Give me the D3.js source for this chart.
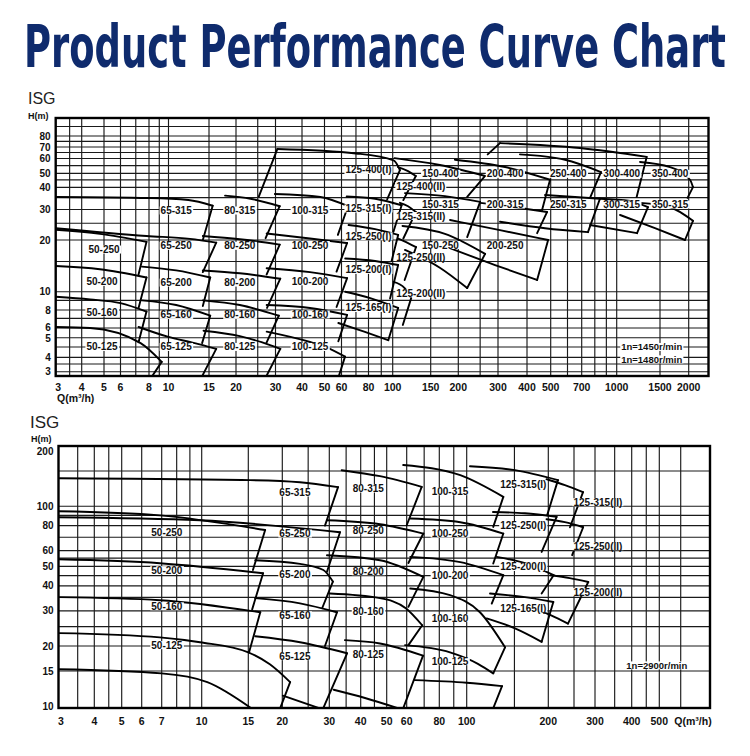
<!DOCTYPE html>
<html><head><meta charset="utf-8">
<script src="https://cdn.jsdelivr.net/npm/d3@7"></script>
<style>body{margin:0;background:#fff}</style>
</head><body>
<svg id="c" width="750" height="756"></svg>
<script>
// ================= DATA: 1450/1480 r/min chart =================
const lowQTicks = [3,4,5,6,8,10,15,20,30,40,50,60,80,100,150,200,300,400,500,700,1000,1500,2000];
const lowHTicks = [3,4,5,6,8,10,20,30,40,50,60,70,80];
const lowQGrid = [3.5,4,5,6,7,8,9,10,15,20,25,30,40,50,60,70,80,90,100,150,200,250,300,400,500,600,700,800,900,1000,1500,2000];
const lowHGrid = [3,3.5,4,4.5,5,6,7,8,9,10,15,20,25,30,35,40,45,50,55,60,65,70,75,80,90];
const lowNames = ['50-125','50-160','50-200','50-250','65-125','65-160','65-200','65-250','65-315',
  '80-125','80-160','80-200','80-250','80-315','100-125','100-160','100-200','100-250','100-315',
  '125-400(I)','125-315(I)','125-250(I)','125-200(I)','125-165(I)','125-400(II)','125-315(II)','125-250(II)','125-200(II)',
  '150-400','150-315','150-250','200-400','200-315','200-250','250-400','300-400','350-400','250-315','300-315','350-315'];
const lowTop = [
  [[3,6.1],[4.35,6.0],[7.35,4.7],[9.25,3.65]],
  [[3,9.4],[4.35,9.1],[6,8.7],[7.8,7.8]],
  [[3,14.1],[4.8,13.5],[7.8,12.1]],
  [[3,22.9],[4.8,21.7],[7.8,19.5]],
  [[7.2,6.1],[9.9,5.1],[13,4.7],[16.2,4.4]],
  [[7.45,9.0],[10.8,8.5],[15.2,7.3]],
  [[7.45,14.0],[10.8,13.3],[15.2,12.1]],
  [[3,23.4],[7.8,21.1],[12.4,20.3],[16.2,19.3]],
  [[3,35.3],[8,34.8],[12.2,33.9],[15.6,31.5]],
  [[14.2,5.7],[20.8,5.15],[26,4.75],[31.6,4.4]],
  [[14.1,9.0],[20.8,8.5],[31.1,7.3]],
  [[14.1,13.3],[20.8,12.8],[31.6,11.9]],
  [[14.1,21.1],[20.8,20.2],[31.4,18.8]],
  [[17.8,35.9],[23.2,34.5],[31.4,31.3]],
  [[27.4,5.6],[43.3,4.76],[51.4,4.47],[62.3,4.03]],
  [[27.4,8.5],[43.3,8.2],[63.7,7.4]],
  [[27.4,13.7],[43.3,13.0],[63.7,12.0]],
  [[27.4,21.8],[43.3,20.4],[63.7,19.2]],
  [[29.8,36.7],[48,35.3],[64.3,31.3]],
  [[30.6,68.1],[70,64.2],[101,58.6],[108,52]],
  [[63.4,35.5],[85,34.5],[110,31.7]],
  [[64.7,24.4],[85,23.1],[106,21.4]],
  [[62.4,15.6],[85,15.1],[106,14.3]],
  [[62.4,10],[81.3,9.25],[106,8.2]],
  [[105.8,54],[117.8,51.4],[128,47.9]],
  [[108,32.7],[117.8,31.3],[128,29]],
  [[105.8,20.4],[117.8,19.2],[128.3,18.2]],
  [[100.9,11.4],[113.6,10.5],[121.8,9.25]],
  [[102,60.3],[165,55.4],[263,47.9]],
  [[114,37.1],[174,35.7],[250,33.1]],
  [[111,24.1],[174,21.7],[263,16.6]],
  [[193,59.1],[322,54],[497,45.1]],
  [[250,32.7],[355,30.9],[483,29]],
  [[183.5,26.1],[306,22.8],[488,20]],
  [[373,63.4],[584,59.1],[852,50.8]],
  [[306,73.4],[687,69.1],[1324,61.3]],
  [[1244,57.5],[1659,54],[2025,45.1],[2084,40.1]],
  [[474,36.2],[651,35.3],[843,34.5]],
  [[843,34.5],[1133,33.5],[1340,30.9]],
  [[1244,32.7],[1659,30.9],[2084,25.8]]
];
const lowRight = [[8.2,2.7],[7.2,4.75],[7.2,8.2],[7.2,12.6],[13.9,2.7],[14,4.7],[14.1,8.4],[14.1,13],[14.1,20],
  [27.1,2.7],[27.3,4.7],[27.5,8.2],[27.4,12.6],[27.1,20.5],[58,2.7],[58,4.8],[56.9,8.3],[56.9,13.1],[57.7,21.4],
  [95,34.2],[100.8,22.3],[99,15.1],[97.6,9.2],[96,4.86],[112,33.9],[112,20.4],[113.6,11.7],[111.4,6.3],
  [219,35.3],[219,20.8],[219,10.5],[461,29.8],[440,21.9],[440,11.7],[762,34.9],[1206,35.4],[1977,34.9],[746,22.2],[1210,21.9],[1927,20]];
const lowLeft = lowNames.map(n => n === '125-400(I)' ? [25.3,35.6] : n === '300-400' ? [270,63.4] : null);
const lowExtra = lowNames.map(n => ({
  '125-165(I)': [[58,6.5],[77,5.57],[96,4.86]],
  '150-250': [[114,17.5],[165,13.8],[219,10.5]],
  '200-250': [[178,18.2],[291,14.3],[440,11.7]],
  '250-315': [[306,25.5],[474,23.4],[746,22.2]],
  '300-315': [[762,24.4],[1210,21.9]],
  '350-315': [[1031,27.9],[1431,23.4],[1927,20]]
}[n] || null));
const lowLabelText = ['50-250','50-200','50-160','50-125','65-315','65-250','65-200','65-160','65-125',
  '80-315','80-250','80-200','80-160','80-125','100-315','100-250','100-200','100-160','100-125',
  '125-400(I)','125-315(I)','125-250(I)','125-200(I)','125-165(I)','125-400(II)','125-315(II)','125-250(II)','125-200(II)',
  '150-400','150-315','150-250','200-400','200-315','200-250','250-400','250-315','300-400','300-315','350-400','350-315',
  '1n=1450r/min','1n=1480r/min'];
const lowLabelAt = [[5.0,17.6],[4.9,11.4],[4.9,7.7],[4.9,4.5],[10.8,29.6],[10.8,18.5],[10.8,11.3],[10.8,7.4],[10.8,4.5],
  [20.8,29.6],[20.8,18.5],[20.8,11.3],[20.8,7.4],[20.8,4.5],[43.3,29.6],[43.3,18.7],[43.3,11.5],[43.3,7.45],[43.3,4.5],
  [80,52.1],[80,30.4],[80,21.0],[80,13.4],[80,8.2],[135,40.8],[135,27.5],[135,15.9],[135,9.8],
  [166,49.6],[166,32],[166,18.7],[322,49.6],[322,32],[322,18.7],[605,49.6],[605,32],[1048,49.6],[1048,32],[1659,49.6],[1659,32],
  [1388,4.5],[1388,3.84]];

// ================= DATA: 2900 r/min chart =================
const highQTicks = [3,4,5,6,7,10,15,20,30,40,50,60,80,100,200,300,400,500];
const highHTicks = [10,15,20,30,40,50,60,80,100,200];
const highQGrid = [3.5,4,4.5,5,6,7,8,9,10,15,20,25,30,35,40,45,50,60,70,80,90,100,150,200,250,300,350,400,450,500,600];
const highHGrid = [15,20,25,30,35,40,45,50,55,60,70,80,90,100,150];
const highNames = ['50-125','50-160','50-200','50-250','65-125','65-160','65-200','65-250','65-315',
  '80-125','80-160','80-200','80-250','80-315','100-125','100-160','100-200','100-250','100-315',
  '125-315(I)','125-315(II)','125-250(I)','125-250(II)','125-200(I)','125-200(II)','125-165(I)'];
const highTop = [
  [[3,23.2],[6.9,22.1],[9.85,20.9],[15,18.6],[18,16.2],[21.4,13.2]],
  [[3,35.1],[6.9,33.9],[16.6,29.5]],
  [[3,54.3],[6.9,51.9],[17,46.2]],
  [[3,94.4],[6.9,90],[17.3,76]],
  [[15.9,22.4],[23.3,20.9],[35.3,18.4]],
  [[15.9,34.7],[23.3,32.7],[32.2,29.5]],
  [[15.9,53.7],[23.3,51.5],[28.5,48],[31,42]],
  [[3,88.1],[9.85,85.1],[33.1,74.1]],
  [[3,138],[15.2,135],[23.3,131.8],[32.5,124.5]],
  [[34.6,21.4],[47.2,20.6],[69.3,17.9]],
  [[30.2,36.6],[47.2,34.7],[59.5,30.9],[68.8,25.4]],
  [[29.4,56.9],[47.2,53.7],[69.5,44.3]],
  [[29.4,85.1],[47.2,81.3],[69.5,73]],
  [[33.6,151.4],[47.2,141.3],[68.5,124.9]],
  [[64.5,13.5],[100,13.1],[135,12.6]],
  [[61.9,38.8],[87.3,35.9],[111.9,29.5],[138.5,19.7]],
  [[61.9,55.8],[94.9,52.5],[136.5,45.2]],
  [[61.9,86.8],[94.9,83.2],[136.5,73]],
  [[58.1,160.7],[94.9,142.9],[136.5,111.3]],
  [[102.8,158.5],[150.7,151.4],[217.5,135]],
  [[197,136.4],[231,127.4],[270.4,117.5]],
  [[125,93.6],[164,92.2],[215,88.4]],
  [[197,86.1],[231,83.2],[270.7,78.5]],
  [[129,55.8],[164,51.9],[209.5,45.2]],
  [[204,45.2],[241,43.7],[283,41.8]],
  [[121.9,36.6],[164,35.1],[208.9,33.2]]
];
const highRight = [[19.6,9.7],[15.1,18.6],[15.5,30.5],[15.6,48],[28.4,9.7],[28.9,20],[28.2,30.9],[29.4,47],[28.9,80],
  [58,9.7],[60.9,20.2],[60.9,31.4],[60.9,52],[60,80.3],[125,9.7],[125.3,14.6],[123.7,32.6],[125.3,51.7],[125.3,78.8],
  [198,90],[241.4,78.5],[189,59.1],[246,56.9],[189,36.6],[237.3,25.9],[189,21]];
const highLeft = highNames.map(() => null);
const highExtra = highNames.map(n => ({
  '50-125': [[3,15.3],[7,14.6],[10.5,13.2],[15.5,9.7]],
  '65-125': [[20.1,11.3],[28,9.7]],
  '80-125': [[31.2,12.1],[41.5,11],[56.5,9.7]],
  '100-125': [[59.1,20.2],[87.3,18.6],[110,16.3],[125.3,14.6]],
  '125-200(II)': [[180,30.5],[205,28.5],[237.3,25.9]],
  '125-165(I)': [[118.5,27.5],[150.7,24.5],[189,21]]
}[n] || null));
const highLabelText = ['50-250','50-200','50-160','50-125','65-315','65-250','65-200','65-160','65-125',
  '80-315','80-250','80-200','80-160','80-125','100-315','100-250','100-200','100-160','100-125',
  '125-315(I)','125-250(I)','125-200(I)','125-165(I)','125-315(II)','125-250(II)','125-200(II)','1n=2900r/min'];
const highLabelAt = [[7.33,74.1],[7.33,47.9],[7.33,31.6],[7.33,20.2],[22.3,117.1],[22.3,73],[22.3,45.6],[22.3,28.5],[22.3,17.8],
  [42.7,122.6],[42.7,75.9],[42.7,47.3],[42.7,29.6],[42.7,18.2],[87.3,118.9],[87.3,73],[87.3,45.2],[87.3,27.6],[87.3,16.8],
  [161.7,128.4],[161.7,80.3],[161.7,49.7],[161.7,30.9],[307,104.7],[307,63.1],[307,37.2],[490,16]];

// ================= LAYOUT (scale calibration, pixels) =================
const lowLayout = {
  id:'low',
  xCal:[3,4,5,6,8,10,15,20,30,40,50,60,80,100,150,200,300,400,500,700,1000,1500,2000,2420],
  xPx:[55.7,81.7,104,120.5,149,168.5,209,236,275.5,302,324.5,341.5,368.5,392.7,430.7,458.3,498,527,550.7,581.7,616.7,660,688.7,708.5],
  yCal:[2.78,3,4,5,6,8,10,20,30,40,50,60,70,80,100],
  yPx:[376,371.7,357.3,337.7,328,310,291.7,240,209.5,187.3,173.3,158.5,147,136,118],
  tickY:391, isg:{x:28,y:104,size:16}, hm:{x:28,y:119}, qLabel:{x:57,y:402,anchor:'start'}
};
const highLayout = {
  id:'high',
  xCal:[3,4,5,6,7,10,15,20,30,40,50,60,80,100,200,300,400,500,770],
  xPx:[58.5,94.3,121.7,141.7,161.7,201.7,248.3,282.3,329.3,360.7,386.7,406.7,439.3,466.7,548.3,595,631.7,659.3,710],
  yCal:[9.8,200], yPx:[708,446],
  tickY:725, isg:{x:30,y:428,size:17}, hm:{x:31,y:442}, qLabel:{x:693,y:725,anchor:'middle'}
};

const svg = d3.select('#c');
svg.append('rect').attr('width',750).attr('height',756).attr('fill','#fff');
const SANS = "'Liberation Sans', Arial, Helvetica, sans-serif";

// title: narrow natural width, stretched vertically to the reference's cap height
svg.append('text').attr('transform','translate(24,67) scale(1,1.38)')
  .attr('x',0).attr('y',0)
  .attr('textLength',702).attr('lengthAdjust','spacingAndGlyphs')
  .style('font-family',"'DejaVu Sans Condensed','Liberation Sans Narrow',sans-serif")
  .style('font-weight','bold').style('font-size','42px').attr('fill','#0f2b6d')
  .text('Product Performance Curve Chart');

function drawChart(o, d) {
  const x = d3.scaleLog().domain(o.xCal).range(o.xPx);
  const y = d3.scaleLog().domain(o.yCal).range(o.yPx);
  const L = o.xPx[0], R = o.xPx[o.xPx.length-1];
  const B = o.yPx[0], T = o.yPx[o.yPx.length-1];
  const g = svg.append('g');
  const cid = o.id + 'clip';
  svg.append('clipPath').attr('id', cid).append('rect')
    .attr('x', L).attr('y', T).attr('width', R - L).attr('height', B - T);

  g.append('g').selectAll('line').data(d.qGrid).join('line')
    .attr('x1', v => x(v)).attr('x2', v => x(v)).attr('y1', T).attr('y2', B)
    .attr('stroke', '#1a1a1a').attr('stroke-width', 1.15);
  g.append('g').selectAll('line').data(d.hGrid).join('line')
    .attr('y1', v => y(v)).attr('y2', v => y(v)).attr('x1', L).attr('x2', R)
    .attr('stroke', '#1a1a1a').attr('stroke-width', 1.15);

  const smooth = d3.line().x(p => x(p[0])).y(p => y(p[1])).curve(d3.curveMonotoneX);
  const straight = d3.line().x(p => x(p[0])).y(p => y(p[1]));
  const cg = g.append('g').attr('clip-path', `url(#${cid})`).attr('fill', 'none')
    .attr('stroke', '#000').attr('stroke-width', 1.9).attr('stroke-linejoin', 'round').attr('stroke-linecap','round');
  d.tops.forEach((t, i) => {
    cg.append('path').attr('d', smooth(t));
    cg.append('path').attr('d', straight([t[t.length-1], d.rights[i]]));
    if (d.lefts[i]) cg.append('path').attr('d', straight([t[0], d.lefts[i]]));
    if (d.extras[i]) cg.append('path').attr('d', smooth(d.extras[i]));
  });

  // model labels
  const lg = g.append('g');
  d.labels.forEach((txt, i) => {
    const p = d.labelAt[i];
    const small = txt.startsWith('1n');
    const t = lg.append('text').attr('x', x(p[0])).attr('y', y(p[1]))
      .attr('text-anchor', 'middle').attr('dominant-baseline', 'central')
      .style('font-family', SANS).style('font-weight', 'bold')
      .style('font-size', small ? '9.5px' : '10px').attr('fill', '#111').text(txt);
    const bb = t.node().getBBox();
    lg.insert('rect', () => t.node()).attr('x', bb.x - 1).attr('y', bb.y + 1.5)
      .attr('width', bb.width + 2).attr('height', bb.height - 3).attr('fill', '#fff');
  });

  g.append('rect').attr('x', L).attr('y', T).attr('width', R - L).attr('height', B - T)
    .attr('fill', 'none').attr('stroke', '#000').attr('stroke-width', 2.4);

  // axis labels
  g.append('g').selectAll('text').data(d.qTicks).join('text')
    .attr('x', (v, i) => x(v) + (i === 0 ? 2.5 : 0)).attr('y', o.tickY)
    .attr('text-anchor', 'middle').style('font-family', SANS).style('font-weight', 'bold')
    .style('font-size', '10.5px').attr('fill', '#111').text(v => v);
  // y tick labels, nudged apart where the calibrated positions crowd
  const ys = d.hTicks.map(v => Math.max(y(v), T + 5));
  for (let k = 1; k < ys.length; k++) {
    const gap = ys[k-1] - ys[k];
    if (gap < 11) { const push = (11 - gap) / 2; ys[k-1] += push; ys[k] -= push; }
  }
  g.append('g').selectAll('text').data(d.hTicks).join('text')
    .attr('x', L - 5).attr('y', (v, k) => ys[k])
    .attr('text-anchor', 'end').attr('dominant-baseline', 'central')
    .style('font-family', SANS).style('font-weight', 'bold')
    .style('font-size', '10px').attr('fill', '#111').text(v => v);
  g.append('text').attr('x', o.isg.x).attr('y', o.isg.y)
    .style('font-family', "'Liberation Sans Narrow','Liberation Sans',sans-serif")
    .style('font-size', o.isg.size + 'px').attr('fill', '#222').text('ISG');
  g.append('text').attr('x', o.hm.x).attr('y', o.hm.y)
    .style('font-family', SANS).style('font-weight', 'bold').style('font-size', '9px')
    .attr('fill', '#111').text('H(m)');
  g.append('text').attr('x', o.qLabel.x).attr('y', o.qLabel.y).attr('text-anchor', o.qLabel.anchor)
    .style('font-family', SANS).style('font-weight', 'bold').style('font-size', '10.5px')
    .attr('fill', '#111').text('Q(m³/h)');
}

drawChart(lowLayout, {qTicks: lowQTicks, hTicks: lowHTicks, qGrid: lowQGrid, hGrid: lowHGrid,
  tops: lowTop, rights: lowRight, lefts: lowLeft, extras: lowExtra, labels: lowLabelText, labelAt: lowLabelAt});
drawChart(highLayout, {qTicks: highQTicks, hTicks: highHTicks, qGrid: highQGrid, hGrid: highHGrid,
  tops: highTop, rights: highRight, lefts: highLeft, extras: highExtra, labels: highLabelText, labelAt: highLabelAt});
</script>
</body></html>
